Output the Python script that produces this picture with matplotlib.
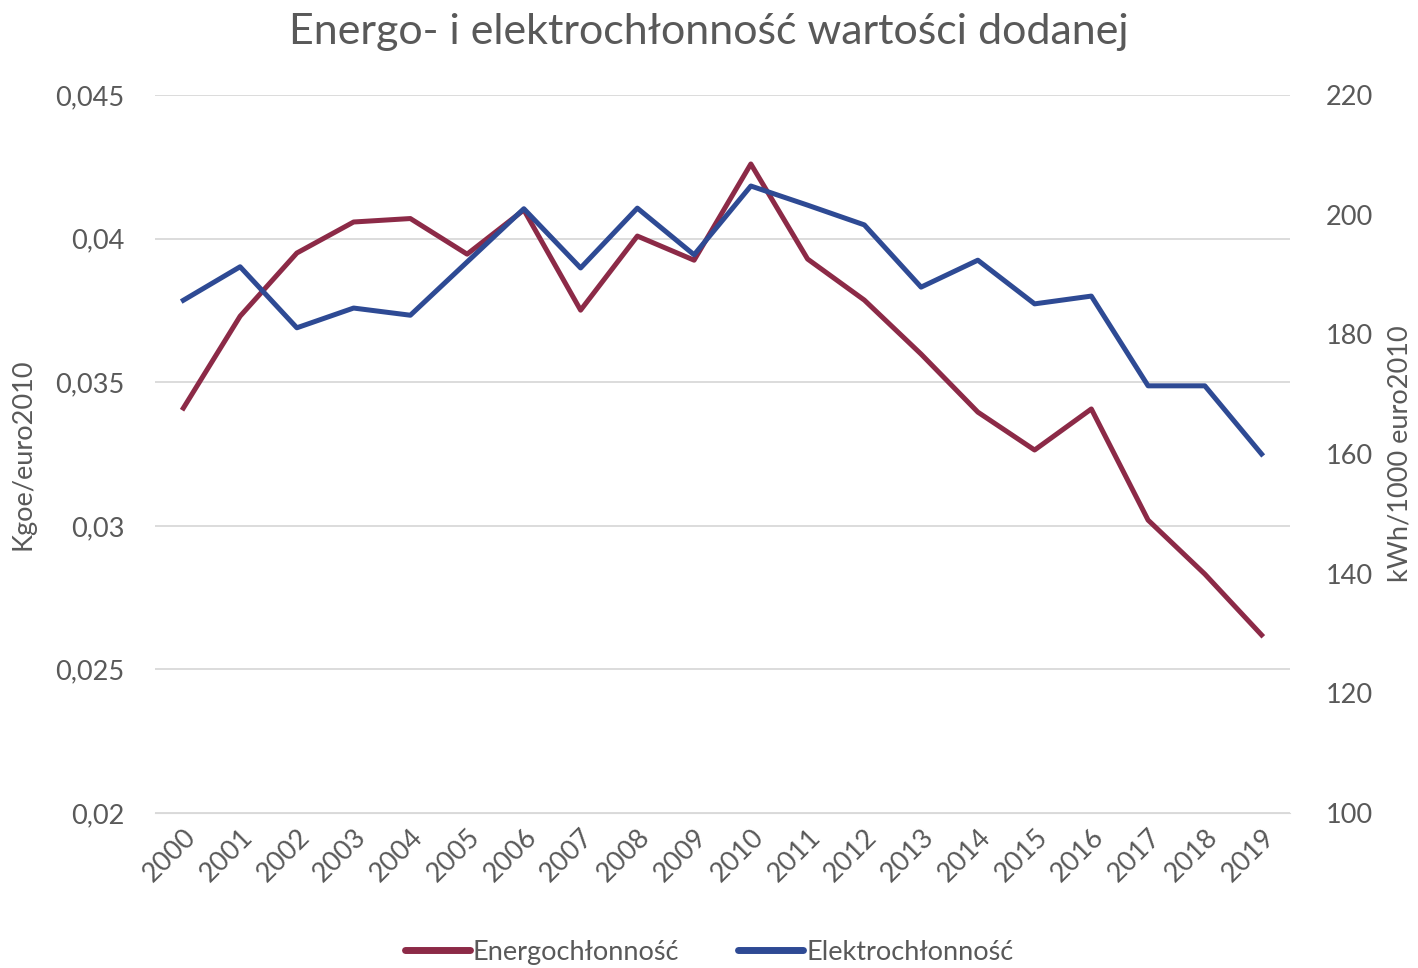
import matplotlib.pyplot as plt
import matplotlib.ticker as mticker
from matplotlib.lines import Line2D

plt.rcParams['font.family'] = ['Lato', 'DejaVu Sans']

years = [str(y) for y in range(2000, 2020)]
energo = [0.0341, 0.0373, 0.0395, 0.04058, 0.0407, 0.03946, 0.0410, 0.03751, 0.04009, 0.03925,
          0.0426, 0.03929, 0.03786, 0.03598, 0.03396, 0.03264, 0.03407, 0.0302, 0.02832, 0.0262]
elektro = [185.7, 191.3, 181.1, 184.4, 183.2, 192.1, 201.0, 191.1, 201.1, 193.3,
           204.8, 201.6, 198.3, 187.9, 192.4, 185.1, 186.4, 171.4, 171.4, 160.0]

red = '#8C2A47'
blue = '#2E4A94'
txt = '#595959'

fig = plt.figure(figsize=(14.18, 9.68), dpi=100)
ax = fig.add_axes([0.1093, 0.1601, 0.8004, 0.7417])
ax2 = ax.twinx()

x = range(len(years))
ax.plot(x, energo, color=red, lw=3.6, solid_joinstyle='round', zorder=3)
ax2.plot(x, elektro, color=blue, lw=3.6, solid_joinstyle='round', zorder=3)

ax.set_xlim(-0.5, len(years) - 0.5)
ax.set_ylim(0.02, 0.045)
ax.set_yticks([0.02, 0.025, 0.03, 0.035, 0.04, 0.045])
ax.yaxis.set_major_formatter(mticker.FuncFormatter(lambda v, p: ('%g' % round(v, 4)).replace('.', ',')))
ax2.set_ylim(100, 220)
ax2.set_yticks(range(100, 221, 20))

ax.set_xticks(list(x))
ax.set_xticklabels(years, rotation=45, ha='right', rotation_mode='anchor')
ax.grid(axis='y', color='#D9D9D9', lw=1.3)
ax.set_axisbelow(True)

for a in (ax, ax2):
    for s in a.spines.values():
        s.set_visible(False)
    a.tick_params(length=0, colors=txt, labelsize=19.5)
ax.tick_params(axis='y', pad=22)
ax2.tick_params(axis='y', pad=26)
ax.tick_params(axis='x', pad=8)
ax.spines['bottom'].set_visible(True)
ax.spines['bottom'].set_color('#D9D9D9')

ax.set_ylabel('Kgoe/euro2010', color=txt, fontsize=19.5, labelpad=14)
ax2.set_ylabel('kWh/1000 euro2010', color=txt, fontsize=19.5, labelpad=10)

fig.suptitle('Energo- i elektrochłonność wartości dodanej', color=txt, fontsize=31, y=0.987, va='top')

handles = [Line2D([], [], color=red, lw=5, solid_capstyle='round'),
           Line2D([], [], color=blue, lw=5, solid_capstyle='round')]
fig.legend(handles, ['Energochłonność', 'Elektrochłonność'], loc='lower center',
           bbox_to_anchor=(0.5, -0.022), ncol=2, frameon=False, fontsize=19.5,
           labelcolor=txt, handlelength=2.4, handletextpad=0.1, columnspacing=2.2)

fig.savefig('out.png', dpi=100)
